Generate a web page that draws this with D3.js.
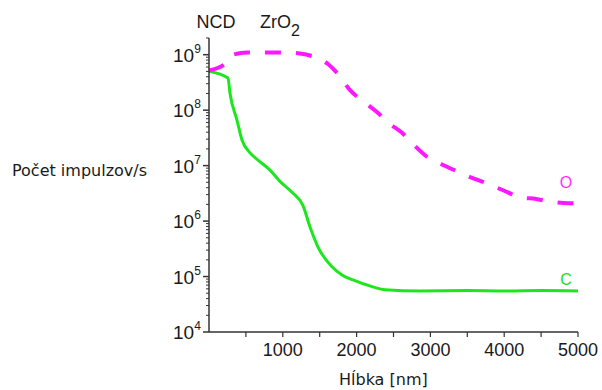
<!DOCTYPE html>
<html lang="sk">
<head>
  <meta charset="UTF-8">
  <title>SIMS profil</title>
  <script src="https://d3js.org/d3.v7.min.js"></script>
  <style>
    body { margin: 0; background: #fff; }
    text { font-family: "Liberation Sans", Arial, sans-serif; fill: #1a1a1a; }
  </style>
</head>
<body>
  <div id="chart"></div>

  <script>
    // Depth profile data
    const depthO = [0, 217, 312, 515, 990, 1233, 1409, 1612, 1748, 1911, 2087, 2290, 2425, 2615,
                    2764, 2967, 3144, 3360, 3537, 3780, 3984, 4214, 4431, 4661, 4878, 5000];
    const countsO = [5.2e8, 6.8e8, 9.8e8, 1.1e9, 1.1e9, 1.05e9, 9.3e8, 6.8e8, 4.5e8, 2.3e8, 1.45e8,
                     8.9e7, 6.0e7, 3.9e7, 2.45e7, 1.4e7, 1.07e7, 7.9e6, 6.2e6, 4.7e6, 3.6e6, 2.7e6,
                     2.5e6, 2.2e6, 2.1e6, 2.1e6];

    const depthC = [0, 257, 285, 379, 447, 556, 664, 827, 962, 1125, 1274, 1369, 1477, 1667, 1802,
                    1951, 2222, 2385, 2860, 3500, 4000, 4500, 5000];
    const countsC = [5.0e8, 3.8e8, 2.0e8, 6.6e7, 2.9e7, 1.7e7, 1.26e7, 8.3e6, 5.2e6, 3.3e6, 1.9e6,
                     7.8e5, 3.4e5, 1.5e5, 1.07e5, 8.7e4, 6.5e4, 5.8e4, 5.5e4, 5.6e4, 5.5e4, 5.6e4, 5.5e4];

    const xTicks = [1000, 2000, 3000, 4000, 5000];
    const yDecades = [4, 5, 6, 7, 8, 9];

    const W = 602, H = 390;
    const svg = d3.select("#chart").append("svg")
      .attr("width", W).attr("height", H);

    const x = d3.scaleLinear().domain([0, 5000]).range([209, 578]);
    const y = d3.scaleLog().domain([1e4, 2e9]).range([332, 38]);

    const axisColor = "#333";

    // curves
    const line = d3.line()
      .x(d => x(d[0]))
      .y(d => y(d[1]))
      .curve(d3.curveMonotoneX);

    svg.append("path")
      .datum(depthC.map((d, i) => [d, countsC[i]]))
      .attr("d", line)
      .attr("fill", "none")
      .attr("stroke", "#1ee61e")
      .attr("stroke-width", 3);

    svg.append("path")
      .datum(depthO.map((d, i) => [d, countsO[i]]))
      .attr("d", line)
      .attr("fill", "none")
      .attr("stroke", "#ff18ff")
      .attr("stroke-width", 4)
      .attr("stroke-dasharray", "16,15");

    // y axis with log minor ticks
    svg.append("line")
      .attr("x1", x(0)).attr("x2", x(0))
      .attr("y1", y.range()[0]).attr("y2", y.range()[1])
      .attr("stroke", axisColor).attr("stroke-width", 1.5);

    const minor = [];
    yDecades.forEach(e => {
      for (let k = 2; k <= 9; k++) {
        const v = k * Math.pow(10, e);
        if (v <= 2e9) minor.push(v);
      }
    });
    svg.selectAll(".ymin").data(minor).enter().append("line")
      .attr("x1", x(0) - 3).attr("x2", x(0))
      .attr("y1", d => y(d)).attr("y2", d => y(d))
      .attr("stroke", axisColor).attr("stroke-width", 1);

    svg.selectAll(".ymaj").data(yDecades).enter().append("line")
      .attr("x1", x(0) - 6).attr("x2", x(0))
      .attr("y1", d => y(Math.pow(10, d))).attr("y2", d => y(Math.pow(10, d)))
      .attr("stroke", axisColor).attr("stroke-width", 1.5);

    // "10" with superscript exponent
    const yLab = svg.selectAll(".ylab").data(yDecades).enter().append("text")
      .attr("x", 173)
      .attr("y", d => y(Math.pow(10, d)) + 7)
      .style("font-size", "19px");
    yLab.append("tspan").text("10");
    yLab.append("tspan")
      .attr("dy", -9)
      .style("font-size", "12px")
      .text(d => d);

    // x axis
    svg.append("line")
      .attr("x1", x(0)).attr("x2", x(5000))
      .attr("y1", y(1e4)).attr("y2", y(1e4))
      .attr("stroke", axisColor).attr("stroke-width", 1.5);

    svg.selectAll(".xt").data(d3.range(500, 5001, 500)).enter().append("line")
      .attr("x1", d => x(d)).attr("x2", d => x(d))
      .attr("y1", y(1e4)).attr("y2", y(1e4) + 5)
      .attr("stroke", axisColor).attr("stroke-width", 1.2);

    svg.selectAll(".xl").data(xTicks).enter().append("text")
      .attr("x", d => x(d))
      .attr("y", 356)
      .attr("text-anchor", "middle")
      .style("font-size", "18px")
      .text(d => d);

    // axis titles
    svg.append("text")
      .attr("x", 12).attr("y", 176)
      .style("font-family", "'DejaVu Sans', sans-serif")
      .style("font-size", "16px")
      .text("Počet impulzov/s");

    svg.append("text")
      .attr("x", 339).attr("y", 385)
      .style("font-family", "'DejaVu Sans', sans-serif")
      .style("font-size", "16px")
      .text("Hĺbka [nm]");

    // layer labels
    svg.append("text")
      .attr("x", 216).attr("y", 28)
      .attr("text-anchor", "middle")
      .style("font-size", "18px")
      .text("NCD");

    const zr = svg.append("text")
      .attr("x", 260).attr("y", 28)
      .style("font-size", "18px");
    zr.append("tspan").text("ZrO");
    zr.append("tspan").attr("dy", 8).style("font-size", "16px").text("2");

    // series labels
    svg.append("text")
      .attr("x", 566).attr("y", 188)
      .attr("text-anchor", "middle")
      .style("font-size", "16px")
      .style("fill", "#ff30ff")
      .text("O");

    svg.append("text")
      .attr("x", 566).attr("y", 285)
      .attr("text-anchor", "middle")
      .style("font-size", "16px")
      .style("fill", "#22dd22")
      .text("C");
  </script>
</body>
</html>
